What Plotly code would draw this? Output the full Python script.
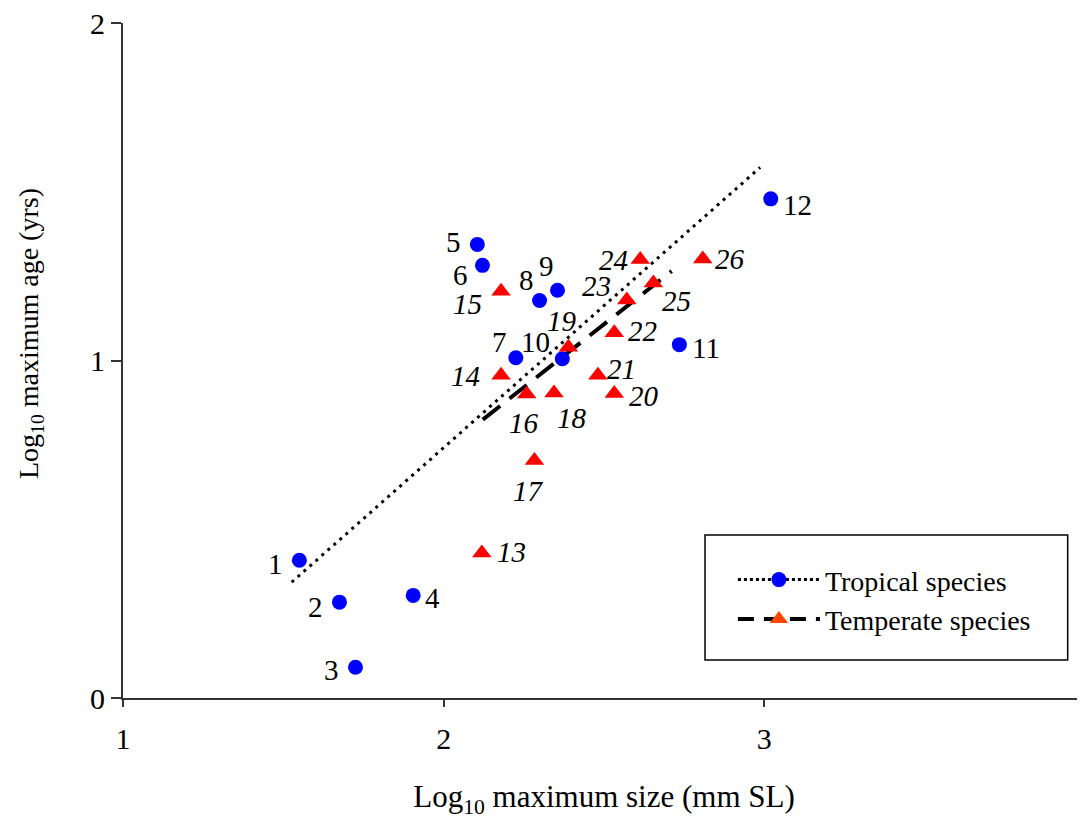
import plotly.graph_objects as go

# ---- data ----
trop_ids = [1, 2, 3, 4, 5, 6, 7, 8, 9, 10, 11, 12]
trop_x = [1.550, 1.675, 1.725, 1.905, 2.105, 2.121, 2.225, 2.299, 2.355, 2.370, 2.735, 3.020]
trop_y = [0.408, 0.284, 0.091, 0.304, 1.344, 1.282, 1.008, 1.178, 1.208, 1.005, 1.047, 1.479]

temp_ids = [13, 14, 15, 16, 17, 18, 19, 20, 21, 22, 23, 24, 25, 26]
temp_x = [2.119, 2.179, 2.179, 2.259, 2.283, 2.344, 2.389, 2.532, 2.481, 2.532, 2.571, 2.613, 2.654, 2.808]
temp_y = [0.430, 0.956, 1.205, 0.901, 0.704, 0.904, 1.039, 0.902, 0.956, 1.082, 1.179, 1.299, 1.230, 1.301]

trop_fit_x = [1.526, 2.987]
trop_fit_y = [0.343, 1.572]
temp_fit_x = [2.122, 2.711]
temp_fit_y = [0.825, 1.265]

x_ticks = [1, 2, 3, 4]
y_ticks = [0, 1, 2]

x_title = "Log<sub>10</sub> maximum size (mm SL)"
y_title = "Log<sub>10</sub> maximum age (yrs)"

# label offsets in pixels (style)
trop_off = [(-24, -4), (-24, -5), (-24, -3), (19, -3), (-24, 2), (-22, -10),
            (-16, 16), (-13, 20), (-11, 24), (-27, 17), (27, -3), (27, -6)]
temp_off = [(30, 1), (-36, -1), (-34, -13), (-3, -29), (-6, -31), (18, -25),
            (-6, 26), (30, -2), (24, 6), (28, 2), (-30, 14), (-27, 0), (23, -18), (27, 0)]

FONT = "Liberation Serif, Times New Roman, serif"
LBL = 29

fig = go.Figure()

# regression lines
fig.add_trace(go.Scatter(x=trop_fit_x, y=trop_fit_y, mode="lines",
                         line=dict(color="black", width=3, dash="3px,5px"),
                         showlegend=False, hoverinfo="skip"))
fig.add_trace(go.Scatter(x=temp_fit_x, y=temp_fit_y, mode="lines",
                         line=dict(color="black", width=4, dash="22px,12px"),
                         showlegend=False, hoverinfo="skip"))

# points
fig.add_trace(go.Scatter(x=trop_x, y=trop_y, mode="markers",
                         marker=dict(symbol="circle", size=15, color="#0000FF"),
                         showlegend=False))
fig.add_trace(go.Scatter(x=temp_x, y=temp_y, mode="markers",
                         marker=dict(symbol="triangle-up", size=17, color="#FF0000"),
                         showlegend=False))

# legend entries
fig.add_trace(go.Scatter(x=[None], y=[None], mode="lines+markers", name="Tropical species",
                         line=dict(color="black", width=3, dash="3px,3px"),
                         marker=dict(symbol="circle", size=15, color="#0000FF")))
fig.add_trace(go.Scatter(x=[None], y=[None], mode="lines+markers", name="Temperate species",
                         line=dict(color="black", width=4, dash="16px,10px"),
                         marker=dict(symbol="triangle-up", size=17, color="#FF4500")))

annotations = []
for i, x, y, (dx, dy) in zip(trop_ids, trop_x, trop_y, trop_off):
    annotations.append(dict(x=x, y=y, xref="x", yref="y", text=str(i), showarrow=False,
                            xshift=dx, yshift=dy, font=dict(family=FONT, size=LBL, color="black")))
for i, x, y, (dx, dy) in zip(temp_ids, temp_x, temp_y, temp_off):
    annotations.append(dict(x=x, y=y, xref="x", yref="y", text="<i>%d</i>" % i, showarrow=False,
                            xshift=dx, yshift=dy, font=dict(family=FONT, size=LBL, color="black")))

# y axis title (placed as annotation to match reference position)
annotations.append(dict(x=-0.0967, y=0.5407, xref="paper", yref="paper", text=y_title,
                        textangle=-90, showarrow=False, xanchor="center", yanchor="middle",
                        font=dict(family=FONT, size=28, color="black")))

fig.update_layout(
    width=1077, height=811,
    margin=dict(l=115, r=0, t=15, b=121, autoexpand=False),
    paper_bgcolor="white", plot_bgcolor="white",
    font=dict(family=FONT, size=30, color="black"),
    annotations=annotations,
    showlegend=True,
    legend=dict(x=0.634, y=0.212, xanchor="left", yanchor="top",
                bgcolor="rgba(0,0,0,0)", borderwidth=0,
                font=dict(family=FONT, size=28, color="black"),
                itemwidth=82, tracegroupgap=0),
    shapes=[dict(type="rect", xref="paper", yref="paper",
                 x0=0.605, x1=0.982, y0=0.0563, y1=0.2415,
                 line=dict(color="black", width=1.5), fillcolor="rgba(0,0,0,0)")],
    xaxis=dict(range=[1, 4], tickvals=x_ticks, ticktext=[str(v) for v in x_ticks],
               showline=True, linecolor="#333", linewidth=2, mirror=False,
               ticks="outside", ticklen=7, tickwidth=1.5, tickcolor="#333",
               showgrid=False, zeroline=False, ticklabelstandoff=6,
               ticklabeloverflow="allow", automargin=False,
               tickfont=dict(family=FONT, size=30),
               title=dict(text=x_title, standoff=38,
                          font=dict(family=FONT, size=31))),
    yaxis=dict(range=[0, 2], tickvals=y_ticks, ticktext=[str(v) for v in y_ticks],
               showline=True, linecolor="#333", linewidth=2,
               ticks="outside", ticklen=10, tickwidth=1.5, tickcolor="#333",
               showgrid=False, zeroline=False, ticklabelstandoff=0,
               ticklabeloverflow="allow", automargin=False,
               tickfont=dict(family=FONT, size=30)),
)

fig.write_html("out.html")
